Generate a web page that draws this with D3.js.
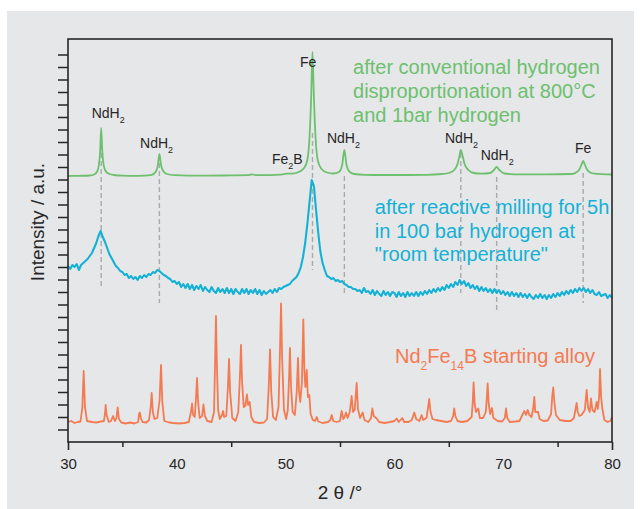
<!DOCTYPE html>
<html>
<head>
<meta charset="utf-8">
<script src="https://cdn.jsdelivr.net/npm/d3@7.9.0/dist/d3.min.js"></script>
<style>
  body { margin: 0; background: #fff; }
  svg { display: block; font-family: "Liberation Sans", Arial, Helvetica, sans-serif; }
</style>
</head>
<body>
<div id="chart"></div>
<script>
// ---- data (2 theta in degrees, intensity in arbitrary units) ----
const xTicks = [30, 40, 50, 60, 70, 80];
const xMinorTicks = [35, 45, 55, 65, 75];
const yTicks = [12.5, 25, 37.5, 50, 62.5, 75, 87.5, 100, 112.5, 125, 137.5, 150, 162.5, 175, 187.5,
  200, 212.5, 225, 237.5, 250, 262.5, 275, 287.5, 300, 312.5, 325, 337.5, 350, 362.5, 375, 387.5];

// after conventional HDDR at 800 C
const hddrScan = [
  [30, 266], [31, 266.2], [32, 266.5], [32.4, 267.5], [32.7, 271], [32.85, 278], [32.95, 290], [33.05, 314],
  [33.15, 291], [33.25, 279], [33.4, 272], [33.7, 268.5], [34.2, 267], [35, 266.3], [36, 266.2], [37, 266.4],
  [37.7, 267.2], [38.05, 270], [38.25, 276], [38.4, 288], [38.55, 277], [38.75, 271], [39.1, 268], [39.8, 266.8],
  [41, 266.4], [43, 266.4], [45, 266.6], [46.5, 266.8], [46.9, 267.6], [47.3, 266.9], [48.5, 266.9], [49.6, 267.3],
  [50.1, 268.3], [50.6, 268.3], [51.2, 270], [51.7, 274], [52.0, 282], [52.2, 305], [52.35, 345], [52.47, 390],
  [52.6, 345], [52.75, 305], [52.95, 282], [53.3, 273], [53.8, 269.5], [54.4, 268.5], [54.9, 270], [55.2, 277],
  [55.4, 292], [55.6, 277], [55.85, 270.5], [56.3, 268], [57.3, 267.2], [59, 267], [61, 267], [63, 267.2],
  [64.3, 268], [65.0, 269], [65.5, 272], [65.8, 278], [66.0, 287], [66.1, 292], [66.25, 287], [66.45, 278],
  [66.8, 272], [67.3, 269], [68, 268.3], [68.8, 269], [69.15, 272], [69.4, 275], [69.65, 272], [70.1, 268.5],
  [71.5, 267.6], [74, 267.6], [76.3, 268], [76.7, 269.5], [77.0, 272.5], [77.2, 277.5], [77.35, 281],
  [77.5, 277.5], [77.7, 272.5], [78.0, 269.5], [78.4, 268.3], [80, 267.5]
];

// after reactive milling, sampled every 0.2 deg from 30 deg
const millingStart = 30;
const millingStep = 0.2;
const millingScan = [
  176, 173, 177, 175, 178, 172, 177, 179, 181, 183,
  186, 189, 194, 199, 206, 211, 205, 200, 194, 188,
  184, 180, 176, 174, 171, 170, 167, 168, 164, 166,
  163, 165, 162, 166, 164, 167, 165, 168, 167, 170,
  169, 172, 171, 169, 167, 166, 164, 163, 160, 161,
  158, 160, 155, 158, 154, 158, 153, 157, 152, 156,
  153, 157, 151, 155, 152, 150, 155, 151, 149, 154,
  150, 153, 149, 154, 149, 153, 148, 153, 150, 148,
  153, 149, 153, 148, 152, 149, 153, 148, 152, 147,
  151, 148, 150, 152, 149, 153, 150, 154, 153, 155,
  156, 157, 158, 161, 163, 165, 169, 175, 185, 199,
  218, 240, 262, 256, 232, 209, 190, 179, 172, 166,
  165, 163, 164, 161, 162, 160, 161, 158, 157, 155,
  155, 153, 153, 151, 152, 149, 154, 150, 151, 148,
  152, 147, 151, 148, 146, 151, 147, 150, 146, 150,
  149, 145, 150, 146, 149, 145, 150, 146, 149, 146,
  150, 146, 150, 147, 151, 148, 152, 149, 153, 150,
  154, 151, 155, 152, 157, 154, 158, 155, 160, 157,
  162, 158, 161, 156, 159, 154, 157, 153, 156, 151,
  155, 151, 154, 150, 153, 149, 153, 149, 152, 148,
  151, 147, 150, 146, 150, 146, 149, 145, 149, 145,
  148, 144, 148, 145, 143, 147, 144, 148, 144, 147,
  143, 147, 144, 148, 145, 149, 146, 150, 147, 151,
  148, 152, 149, 153, 150, 154, 151, 154, 150, 153,
  149, 152, 148, 147, 150, 146, 147, 148, 144, 147,
  144
];

// Nd2Fe14B starting alloy
const alloyScan = [
  [30, 20], [30.3, 21], [30.6, 19], [30.9, 20], [31.15, 20.5], [31.32, 35], [31.44, 71], [31.56, 35], [31.75, 21],
  [32.2, 20], [32.6, 19.5], [33.0, 20.5], [33.3, 21], [33.4, 28], [33.46, 37], [33.55, 27], [33.75, 20], [33.95, 21],
  [34.1, 25], [34.14, 26], [34.3, 21], [34.45, 24], [34.57, 34.5], [34.68, 23], [34.9, 19.5], [35.3, 18.5],
  [35.7, 19.5], [36.1, 18.5], [36.45, 20], [36.53, 28], [36.6, 29.5], [36.7, 24], [36.85, 20], [37.2, 19.5],
  [37.45, 22], [37.6, 35], [37.69, 49], [37.8, 30], [37.95, 23], [38.2, 24], [38.42, 42], [38.55, 77], [38.67, 40],
  [38.85, 21], [39.3, 19.5], [39.7, 19], [40.2, 18.5], [40.7, 19], [41.1, 20], [41.3, 30], [41.4, 38.5], [41.5, 27],
  [41.65, 25], [41.77, 45], [41.86, 64], [41.96, 40], [42.1, 24], [42.32, 26], [42.45, 37.5], [42.58, 26], [42.8, 21],
  [43.2, 20], [43.42, 30], [43.52, 80], [43.6, 126], [43.68, 80], [43.8, 32], [43.95, 23], [44.15, 27], [44.25, 31],
  [44.35, 25], [44.55, 26], [44.7, 55], [44.8, 83], [44.9, 50], [45.1, 24], [45.4, 21], [45.65, 30], [45.8, 65],
  [45.9, 97], [46.0, 60], [46.15, 35], [46.3, 36], [46.45, 47.5], [46.55, 37], [46.7, 40], [46.85, 25], [47.1, 20],
  [47.6, 19], [48.0, 19.5], [48.3, 23], [48.45, 55], [48.57, 92.7], [48.68, 50], [48.85, 25], [49.1, 22], [49.35, 35],
  [49.48, 90], [49.58, 138.5], [49.68, 85], [49.85, 32], [50.05, 23], [50.2, 32], [50.32, 65], [50.4, 94], [50.5, 55],
  [50.65, 30], [50.85, 27], [51.02, 50], [51.14, 84], [51.24, 50], [51.35, 40], [51.5, 60], [51.63, 122.5],
  [51.73, 70], [51.82, 55], [51.94, 72], [52.05, 45], [52.18, 47], [52.3, 28], [52.5, 22], [52.7, 21], [52.86, 25],
  [53.0, 20.5], [53.4, 19], [53.9, 20], [54.1, 22], [54.24, 27], [54.38, 21], [54.7, 20], [55.0, 21], [55.15, 31],
  [55.3, 23], [55.42, 25], [55.55, 29.5], [55.7, 24], [55.9, 30], [56.07, 46], [56.2, 30], [56.35, 32], [56.53, 59],
  [56.65, 33], [56.85, 24], [57.08, 29.5], [57.25, 22], [57.6, 20], [57.85, 24], [57.97, 33.5], [58.1, 26],
  [58.37, 23.5], [58.6, 20], [59.1, 19], [59.6, 20], [60.0, 21], [60.2, 23.5], [60.4, 20], [60.72, 24], [60.9, 20],
  [61.3, 20], [61.6, 22], [61.83, 29.5], [62.0, 23], [62.3, 21], [62.5, 27], [62.65, 22], [62.95, 24], [63.1, 35],
  [63.2, 43], [63.32, 30], [63.5, 23], [63.8, 22], [64.3, 21], [64.8, 20], [65.2, 21], [65.4, 26], [65.5, 33.5],
  [65.6, 26], [65.8, 21], [66.2, 20], [66.7, 21], [67.1, 25], [67.2, 40], [67.28, 59.5], [67.38, 38], [67.5, 30],
  [67.71, 33.5], [67.85, 24], [68.15, 24], [68.4, 30], [68.5, 45], [68.57, 58.5], [68.67, 38], [68.8, 28],
  [68.97, 34], [69.1, 24], [69.5, 21], [69.9, 20.5], [70.15, 24], [70.26, 33.5], [70.38, 24], [70.6, 20],
  [71.1, 20.5], [71.5, 21], [71.8, 28], [71.95, 31], [72.1, 27], [72.25, 32], [72.4, 27], [72.6, 25], [72.75, 33],
  [72.86, 45], [72.95, 30], [73.2, 30], [73.35, 23], [73.7, 21], [74.1, 21.5], [74.4, 28], [74.5, 45], [74.6, 54.5],
  [74.7, 40], [74.85, 27], [75.2, 22], [75.7, 21], [76.2, 21], [76.5, 24], [76.65, 33], [76.75, 39], [76.85, 30],
  [77.0, 26], [77.2, 27], [77.5, 32], [77.67, 52], [77.8, 34], [77.95, 30], [78.07, 43.5], [78.2, 32], [78.4, 30],
  [78.59, 40], [78.7, 33], [78.82, 45], [78.9, 73], [79.0, 45], [79.11, 33.5], [79.3, 22], [79.6, 20], [79.85, 21],
  [80, 25]
];

// grey dashed reflection markers: position, upper and lower intensity
const markerPos = [33.05, 38.4, 52.47, 55.4, 66.1, 69.4, 77.35];
const markerTop = [289, 279, 309, 266, 289, 265, 269];
const markerBottom = [154, 139, 172, 147, 149, 132, 139];

// phase labels: text, subscript, tail, left position (2 theta), baseline (intensity)
const phaseLabels = [
  { main: "NdH", sub: "2", tail: "", t: 32.18, v: 324 },
  { main: "NdH", sub: "2", tail: "", t: 36.62, v: 294 },
  { main: "Fe", sub: "", tail: "", t: 51.32, v: 375 },
  { main: "Fe", sub: "2", tail: "B", t: 48.75, v: 278 },
  { main: "NdH", sub: "2", tail: "", t: 53.8, v: 299 },
  { main: "NdH", sub: "2", tail: "", t: 64.65, v: 299 },
  { main: "NdH", sub: "2", tail: "", t: 67.93, v: 282 },
  { main: "Fe", sub: "", tail: "", t: 76.6, v: 289 }
];

const hddrText = ["after conventional hydrogen", "disproportionation at 800°C", "and 1bar hydrogen"];
const millingText = ["after reactive milling for 5h", "in 100 bar hydrogen at", "\"room temperature\""];

const colors = { hddr: "#6cc06e", milling: "#14b1d5", alloy: "#f47a52", marker: "#a9aaac", ink: "#262626" };

// ---- chart ----
const width = 644;
const height = 509;
const area = { left: 68, right: 612, top: 39, bottom: 442 };

const svg = d3.select("#chart").append("svg")
  .attr("width", width)
  .attr("height", height);

svg.append("rect")
  .attr("x", 7).attr("y", 11)
  .attr("width", 627).attr("height", 498)
  .attr("fill", "#e6e7e9");

const xScale = d3.scaleLinear().domain([30, 80]).range([area.left, area.right]);
const yScale = d3.scaleLinear().domain([0, 403]).range([area.bottom, area.top]);

// dashed markers
svg.append("g")
  .selectAll("line")
  .data(markerPos)
  .join("line")
  .attr("x1", d => xScale(d))
  .attr("x2", d => xScale(d))
  .attr("y1", (d, i) => yScale(markerTop[i]))
  .attr("y2", (d, i) => yScale(markerBottom[i]))
  .attr("stroke", colors.marker)
  .attr("stroke-width", 1.4)
  .attr("stroke-dasharray", "5,3");

const line = d3.line()
  .x(d => xScale(d[0]))
  .y(d => yScale(d[1]));

svg.append("path")
  .datum(alloyScan)
  .attr("d", line)
  .attr("fill", "none")
  .attr("stroke", colors.alloy)
  .attr("stroke-width", 1.8)
  .attr("stroke-linejoin", "round");

svg.append("path")
  .datum(millingScan.map((v, i) => [millingStart + i * millingStep, v]))
  .attr("d", line)
  .attr("fill", "none")
  .attr("stroke", colors.milling)
  .attr("stroke-width", 2.1)
  .attr("stroke-linejoin", "round");

svg.append("path")
  .datum(hddrScan)
  .attr("d", line.curve(d3.curveMonotoneX))
  .attr("fill", "none")
  .attr("stroke", colors.hddr)
  .attr("stroke-width", 1.8);

// axes
const yAxis = svg.append("g")
  .attr("transform", `translate(${area.left},0)`)
  .call(d3.axisLeft(yScale).tickValues(yTicks).tickSize(10).tickFormat(""));
yAxis.select(".domain").remove();
yAxis.selectAll("line").attr("stroke", colors.ink).attr("stroke-width", 1.5);

const xMinor = svg.append("g")
  .attr("transform", `translate(0,${area.bottom})`)
  .call(d3.axisBottom(xScale).tickValues(xMinorTicks).tickSize(5).tickFormat(""));
xMinor.select(".domain").remove();
xMinor.selectAll("line").attr("stroke", colors.ink).attr("stroke-width", 1.5);

const xEnds = svg.append("g")
  .attr("transform", `translate(0,${area.bottom})`)
  .call(d3.axisBottom(xScale).tickValues([30, 80]).tickSize(8).tickFormat(""));
xEnds.select(".domain").remove();
xEnds.selectAll("line").attr("stroke", colors.ink).attr("stroke-width", 1.6);

const xLabels = svg.append("g")
  .attr("transform", `translate(0,${area.bottom})`)
  .call(d3.axisBottom(xScale).tickValues(xTicks).tickSize(0).tickPadding(16));
xLabels.select(".domain").remove();
xLabels.selectAll("text")
  .attr("fill", colors.ink)
  .style("font-size", "15px")
  .style("font-family", "'Liberation Sans', Arial, sans-serif");

// frame
svg.append("rect")
  .attr("x", area.left).attr("y", area.top)
  .attr("width", area.right - area.left)
  .attr("height", area.bottom - area.top)
  .attr("fill", "none")
  .attr("stroke", colors.ink)
  .attr("stroke-width", 1.6);

// axis titles
svg.append("text")
  .attr("x", (area.left + area.right) / 2)
  .attr("y", 499)
  .attr("text-anchor", "middle")
  .attr("fill", colors.ink)
  .style("font-size", "19px")
  .text("2 θ /°");

svg.append("text")
  .attr("transform", "translate(44,222) rotate(-90)")
  .attr("text-anchor", "middle")
  .attr("fill", colors.ink)
  .style("font-size", "19px")
  .text("Intensity / a.u.");

// phase labels
const labels = svg.append("g")
  .selectAll("text")
  .data(phaseLabels)
  .join("text")
  .attr("x", d => xScale(d.t))
  .attr("y", d => yScale(d.v))
  .attr("fill", colors.ink)
  .style("font-size", "14px");
labels.append("tspan").text(d => d.main);
labels.filter(d => d.sub).append("tspan")
  .attr("dy", 5).style("font-size", "9px")
  .text(d => d.sub);
labels.filter(d => d.tail).append("tspan")
  .attr("dy", -5)
  .text(d => d.tail);

// series captions
svg.append("text")
  .attr("fill", colors.hddr)
  .style("font-size", "20px")
  .selectAll("tspan")
  .data(hddrText)
  .join("tspan")
  .attr("x", xScale(56.2))
  .attr("y", (d, i) => yScale(368) + i * 24)
  .text(d => d);

svg.append("text")
  .attr("fill", colors.milling)
  .style("font-size", "20px")
  .selectAll("tspan")
  .data(millingText)
  .join("tspan")
  .attr("x", xScale(58.2))
  .attr("y", (d, i) => yScale(228) + i * 23.5)
  .text(d => d);

const alloyLabel = svg.append("text")
  .attr("x", xScale(60.05))
  .attr("y", yScale(79))
  .attr("fill", colors.alloy)
  .style("font-size", "20px");
alloyLabel.append("tspan").text("Nd");
alloyLabel.append("tspan").attr("dy", 7).style("font-size", "12px").text("2");
alloyLabel.append("tspan").attr("dy", -7).text("Fe");
alloyLabel.append("tspan").attr("dy", 7).style("font-size", "12px").text("14");
alloyLabel.append("tspan").attr("dy", -7).text("B starting alloy");
</script>
</body>
</html>
